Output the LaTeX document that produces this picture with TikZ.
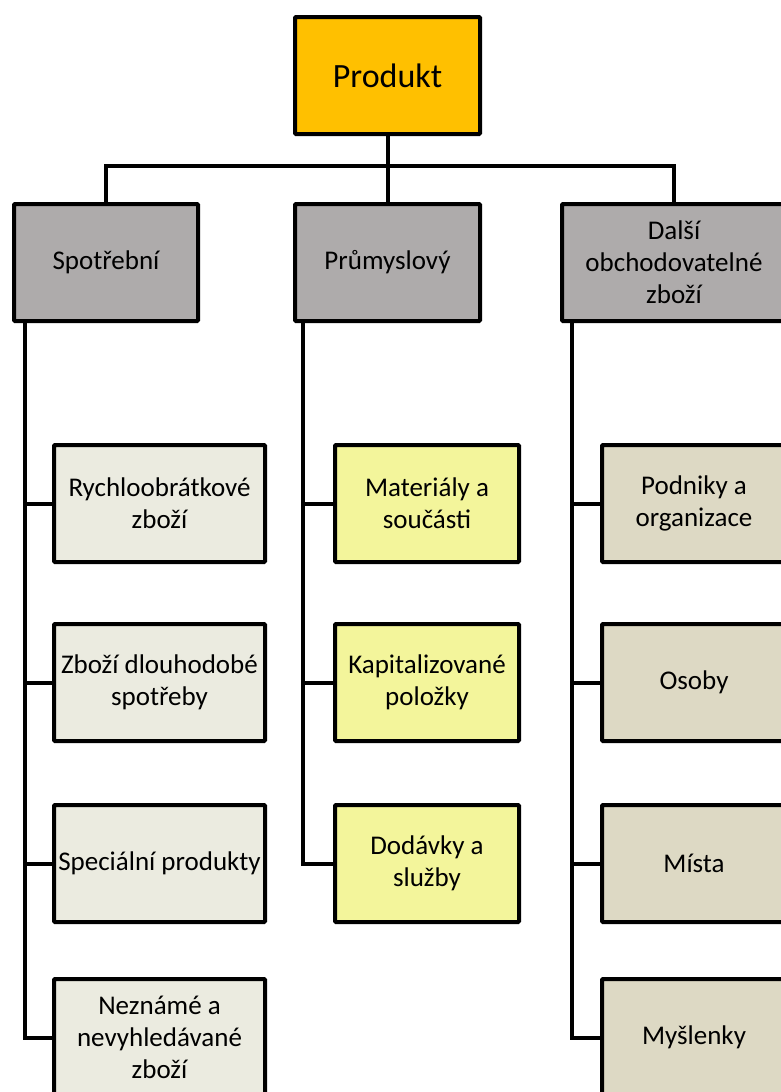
\documentclass[tikz,border=0pt]{standalone}
\usepackage{fontspec}
\setmainfont{Carlito}
\definecolor{topfill}{HTML}{FFC000}
\definecolor{catfill}{HTML}{AEABAB}
\definecolor{consfill}{HTML}{EBEBE0}
\definecolor{indfill}{HTML}{F3F59B}
\definecolor{otherfill}{HTML}{DDD9C4}
\tikzset{
  box/.style={draw=black, line width=4pt, rounded corners=1pt, align=center,
    inner sep=2pt, font=\fontsize{27}{32}\selectfont},
  topbox/.style={box, fill=topfill, minimum width=185pt, minimum height=117pt,
    font=\fontsize{34}{40}\selectfont},
  catbox/.style={box, fill=catfill, minimum height=117pt},
  consbox/.style={box, fill=consfill, minimum width=211pt, minimum height=117pt},
  indbox/.style={box, fill=indfill, minimum width=184pt, minimum height=117pt},
  otherbox/.style={box, fill=otherfill, minimum width=184pt, minimum height=117pt},
  link/.style={draw=black, line width=4pt}
}
\begin{document}
\begin{tikzpicture}[x=1pt, y=-1pt]
\useasboundingbox (0,0) rectangle (781,1092);
\clip (0,0) rectangle (781,1092);
\fill[white] (0,0) rectangle (781,1092);

% root
\node[topbox] (prod) at (387.5,75.5) {Produkt};

% categories
\node[catbox, minimum width=184pt] (spot) at (106,262.5) {Spotřební};
\node[catbox, minimum width=185pt] (prum) at (387.5,262.5) {Průmyslový};
\node[catbox, minimum width=224pt] (dalsi) at (674,262.5) {Další\\obchodovatelné\\zboží};

% consumer goods
\node[consbox] (rych) at (159.5,503.5) {Rychloobrátkové\\zboží};
\node[consbox] (dlouh) at (159.5,682.5) {Zboží dlouhodobé\\spotřeby};
\node[consbox] (spec) at (159.5,863.5) {Speciální produkty};
\node[consbox] (nezn) at (159.5,1037.5) {Neznámé a\\nevyhledávané\\zboží};

% industrial goods
\node[indbox] (mat) at (427,503.5) {Materiály a\\součásti};
\node[indbox] (kap) at (427,682.5) {Kapitalizované\\položky};
\node[indbox] (dod) at (427,863.5) {Dodávky a\\služby};

% other marketable goods
\node[otherbox] (podn) at (694,503.5) {Podniky a\\organizace};
\node[otherbox] (osob) at (694,682.5) {Osoby};
\node[otherbox] (mist) at (694,863.5) {Místa};
\node[otherbox] (mysl) at (694,1037.5) {Myšlenky};

% root to categories
\coordinate (bus) at (387.5,166);
\draw[link] (prod.south) -- (bus);
\draw[link] (bus) -| (spot.north);
\draw[link] (bus) -- (prum.north);
\draw[link] (bus) -| (dalsi.north);

% category trunks
\coordinate (spotT) at (25,323);
\coordinate (prumT) at (303,323);
\coordinate (dalsiT) at (572,323);
\foreach \c in {rych,dlouh,spec,nezn}
  \draw[link] (spotT) |- (\c.west);
\foreach \c in {mat,kap,dod}
  \draw[link] (prumT) |- (\c.west);
\foreach \c in {podn,osob,mist,mysl}
  \draw[link] (dalsiT) |- (\c.west);
\end{tikzpicture}
\end{document}
